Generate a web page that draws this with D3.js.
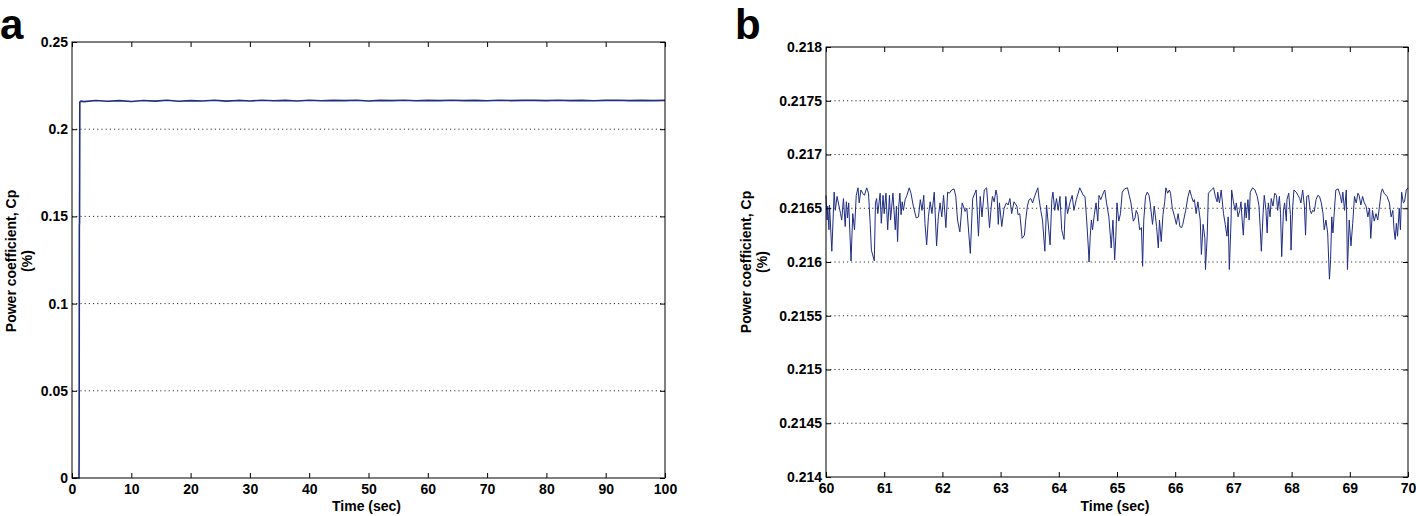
<!DOCTYPE html>
<html><head><meta charset="utf-8">
<script src="https://cdn.jsdelivr.net/npm/d3@7"></script>
<style>
body{margin:0;background:#fff;}
text{font-family:"Liberation Sans",Arial,Helvetica,sans-serif;}
</style>
</head><body>
<svg id="chart" width="1416" height="516"></svg>
<script>
// ---------- Panel a data ----------
const timeA = [0, 1.18, 1.2, 1.22, 1.24, 1.27, 1.32, 1.5,
  2, 4, 6, 8, 10, 12, 14, 16, 18, 20, 22, 24, 26, 28, 30, 32, 34, 36, 38, 40,
  42, 44, 46, 48, 50, 52, 54, 56, 58, 60, 62, 64, 66, 68, 70, 72, 74, 76, 78, 80,
  82, 84, 86, 88, 90, 92, 94, 96, 98, 100];
const cpA = [0, 0, 0.014, 0.08, 0.145, 0.146, 0.2155, 0.2161,
  0.2158, 0.2165, 0.2160, 0.2164, 0.2159, 0.2165, 0.2161, 0.2166, 0.2160, 0.2164, 0.2162, 0.2166, 0.2161, 0.2165, 0.2162, 0.2166, 0.2163, 0.2165, 0.2162, 0.2166,
  0.2163, 0.2165, 0.2164, 0.2166, 0.2162, 0.2165, 0.2164, 0.2166, 0.2163, 0.2165, 0.2164, 0.2166, 0.2164, 0.2165, 0.2163, 0.2166, 0.2164, 0.2165, 0.2165, 0.2164,
  0.2166, 0.2164, 0.2165, 0.2163, 0.2165, 0.2166, 0.2164, 0.2165, 0.2164, 0.2165];
const xTicksA = [0, 10, 20, 30, 40, 50, 60, 70, 80, 90, 100];
const yTicksA = [0, 0.05, 0.1, 0.15, 0.2, 0.25];
const yTickLabelsA = ["0", "0.05", "0.1", "0.15", "0.2", "0.25"];

// ---------- Panel b data ----------
const timeB = [60.00,60.02,60.03,60.05,60.06,60.10,60.14,60.16,60.19,60.25,60.27,60.30,60.33,60.35,60.37,60.39,60.43,60.46,60.49,60.52,
  60.55,60.57,60.60,60.63,60.66,60.70,60.73,60.76,60.78,60.83,60.85,60.87,60.89,60.93,60.95,60.98,61.00,61.03,61.06,61.09,
  61.11,61.13,61.15,61.19,61.21,61.23,61.25,61.27,61.29,61.31,61.33,61.36,61.39,61.43,61.46,61.50,61.55,61.59,61.62,61.65,
  61.68,61.70,61.73,61.76,61.79,61.82,61.86,61.90,61.93,61.96,61.99,62.02,62.06,62.09,62.12,62.16,62.20,62.23,62.26,62.30,
  62.34,62.39,62.42,62.48,62.52,62.58,62.62,62.65,62.68,62.72,62.76,62.81,62.84,62.86,62.89,62.92,62.94,62.96,62.98,63.02,
  63.06,63.10,63.13,63.16,63.19,63.23,63.28,63.30,63.33,63.37,63.41,63.43,63.46,63.49,63.52,63.55,63.59,63.64,63.66,63.69,
  63.72,63.76,63.79,63.85,63.88,63.90,63.93,63.96,63.99,64.02,64.05,64.09,64.12,64.15,64.19,64.23,64.26,64.30,64.36,64.42,
  64.45,64.48,64.51,64.52,64.54,64.56,64.58,64.61,64.64,64.67,64.69,64.72,64.75,64.77,64.79,64.82,64.86,64.89,64.90,64.93,
  64.96,64.98,65.00,65.03,65.06,65.09,65.13,65.18,65.21,65.24,65.28,65.31,65.33,65.36,65.39,65.42,65.44,65.46,65.49,65.52,
  65.55,65.57,65.61,65.64,65.68,65.71,65.73,65.76,65.79,65.82,65.84,65.87,65.90,65.92,65.95,65.99,66.02,66.05,66.08,66.11,
  66.13,66.18,66.22,66.25,66.28,66.31,66.33,66.36,66.39,66.43,66.45,66.48,66.51,66.52,66.55,66.57,66.62,66.66,66.69,66.72,
  66.73,66.76,66.79,66.83,66.86,66.89,66.91,66.93,66.96,66.97,67.00,67.03,67.05,67.08,67.11,67.13,67.15,67.17,67.20,67.22,
  67.25,67.27,67.29,67.33,67.37,67.41,67.44,67.46,67.48,67.51,67.53,67.56,67.58,67.60,67.63,67.65,67.68,67.71,67.74,67.76,
  67.79,67.81,67.83,67.86,67.88,67.91,67.92,67.95,67.98,67.99,68.02,68.04,68.08,68.11,68.14,68.16,68.19,68.22,68.24,68.26,
  68.29,68.32,68.34,68.36,68.39,68.42,68.45,68.48,68.51,68.54,68.56,68.59,68.62,68.65,68.67,68.69,68.71,68.74,68.76,68.80,
  68.84,68.86,68.88,68.91,68.94,68.96,68.99,69.02,69.05,69.08,69.11,69.14,69.16,69.19,69.22,69.25,69.28,69.31,69.34,69.36,
  69.39,69.42,69.45,69.48,69.51,69.54,69.56,69.59,69.64,69.68,69.71,69.74,69.76,69.78,69.80,69.82,69.85,69.87,69.89,69.92,
  69.94,69.97,70.00];
const cpB = [0.21662,0.21639,0.21652,0.21630,0.21653,0.21610,0.21665,0.21648,0.21661,0.21645,0.21639,0.21659,0.21633,0.21656,0.21641,0.21655,0.21601,0.21645,0.21630,0.21662,
  0.21669,0.21655,0.21667,0.21664,0.21662,0.21669,0.21664,0.21635,0.21611,0.21601,0.21655,0.21659,0.21645,0.21664,0.21636,0.21662,0.21645,0.21664,0.21630,0.21662,
  0.21639,0.21652,0.21664,0.21630,0.21652,0.21619,0.21652,0.21664,0.21644,0.21656,0.21648,0.21658,0.21662,0.21669,0.21664,0.21652,0.21641,0.21642,0.21658,0.21648,
  0.21662,0.21636,0.21616,0.21642,0.21656,0.21645,0.21665,0.21615,0.21642,0.21655,0.21642,0.21662,0.21632,0.21665,0.21664,0.21667,0.21668,0.21661,0.21639,0.21628,
  0.21655,0.21647,0.21650,0.21608,0.21659,0.21667,0.21624,0.21661,0.21642,0.21667,0.21669,0.21632,0.21652,0.21661,0.21656,0.21667,0.21662,0.21635,0.21655,0.21633,
  0.21650,0.21655,0.21653,0.21659,0.21645,0.21656,0.21652,0.21644,0.21645,0.21622,0.21625,0.21638,0.21652,0.21658,0.21659,0.21655,0.21662,0.21669,0.21659,0.21648,
  0.21639,0.21610,0.21653,0.21616,0.21658,0.21665,0.21648,0.21659,0.21648,0.21661,0.21630,0.21621,0.21661,0.21645,0.21655,0.21662,0.21648,0.21658,0.21669,0.21662,
  0.21661,0.21638,0.21611,0.21600,0.21624,0.21639,0.21630,0.21644,0.21655,0.21638,0.21662,0.21658,0.21662,0.21665,0.21667,0.21655,0.21642,0.21621,0.21613,0.21639,
  0.21602,0.21624,0.21655,0.21638,0.21645,0.21665,0.21668,0.21669,0.21662,0.21655,0.21638,0.21641,0.21648,0.21644,0.21630,0.21632,0.21596,0.21639,0.21661,0.21665,
  0.21662,0.21655,0.21635,0.21652,0.21633,0.21613,0.21639,0.21619,0.21644,0.21656,0.21669,0.21664,0.21667,0.21664,0.21650,0.21642,0.21635,0.21645,0.21633,0.21632,
  0.21635,0.21648,0.21661,0.21667,0.21661,0.21656,0.21658,0.21645,0.21656,0.21639,0.21607,0.21635,0.21622,0.21593,0.21624,0.21664,0.21667,0.21669,0.21661,0.21656,
  0.21665,0.21655,0.21667,0.21645,0.21635,0.21624,0.21642,0.21593,0.21639,0.21667,0.21656,0.21648,0.21655,0.21642,0.21648,0.21656,0.21639,0.21625,0.21655,0.21641,
  0.21658,0.21639,0.21665,0.21669,0.21667,0.21661,0.21652,0.21632,0.21610,0.21645,0.21662,0.21648,0.21627,0.21655,0.21642,0.21659,0.21652,0.21664,0.21662,0.21648,
  0.21661,0.21645,0.21605,0.21648,0.21655,0.21638,0.21658,0.21664,0.21644,0.21611,0.21652,0.21667,0.21665,0.21662,0.21659,0.21655,0.21667,0.21652,0.21625,0.21661,
  0.21662,0.21648,0.21645,0.21648,0.21647,0.21658,0.21662,0.21661,0.21655,0.21645,0.21630,0.21639,0.21627,0.21584,0.21602,0.21642,0.21627,0.21652,0.21667,0.21668,
  0.21661,0.21655,0.21665,0.21648,0.21667,0.21593,0.21639,0.21615,0.21636,0.21661,0.21655,0.21664,0.21662,0.21653,0.21661,0.21655,0.21652,0.21642,0.21650,0.21622,
  0.21648,0.21638,0.21645,0.21639,0.21652,0.21665,0.21668,0.21664,0.21661,0.21655,0.21642,0.21648,0.21630,0.21621,0.21636,0.21624,0.21650,0.21630,0.21665,0.21655,
  0.21656,0.21667,0.21669];
const xTicksB = [60, 61, 62, 63, 64, 65, 66, 67, 68, 69, 70];
const yTicksB = [0.214, 0.2145, 0.215, 0.2155, 0.216, 0.2165, 0.217, 0.2175, 0.218];
const yTickLabelsB = ["0.214", "0.2145", "0.215", "0.2155", "0.216", "0.2165", "0.217", "0.2175", "0.218"];

const LINE_COLOR = "#1f2d82";
const svg = d3.select("#chart");

function drawPanel(cfg) {
  const x = d3.scaleLinear().domain(cfg.xDomain).range([cfg.left, cfg.right]);
  const y = d3.scaleLinear().domain(cfg.yDomain).range([cfg.bottom, cfg.top]);
  const g = svg.append("g");

  // dotted grid
  g.selectAll("line.grid").data(cfg.yTicks.slice(1, -1)).enter().append("line")
    .attr("x1", cfg.left).attr("x2", cfg.right)
    .attr("y1", d => y(d)).attr("y2", d => y(d))
    .attr("stroke", "#333").attr("stroke-width", 1).attr("stroke-dasharray", "1.2,3");

  // line
  const pts = cfg.xs.map((t, i) => [t, cfg.ys[i]]);
  g.append("path").datum(pts)
    .attr("fill", "none").attr("stroke", LINE_COLOR).attr("stroke-width", cfg.lw)
    .attr("stroke-linejoin", "round")
    .attr("d", d3.line().x(d => x(d[0])).y(d => y(d[1])));

  const styleAxis = (sel) => {
    sel.select(".domain").remove();
    sel.selectAll(".tick line").attr("stroke", "#000");
    sel.selectAll(".tick text").attr("font-size", 14).attr("font-weight", "bold")
      .attr("font-family", "'Liberation Sans', Arial, sans-serif").attr("fill", "#000");
  };
  const lab = (ticks, labels) => (d) => labels[ticks.indexOf(d)];

  g.append("g").attr("transform", `translate(0,${cfg.bottom})`)
    .call(d3.axisBottom(x).tickValues(cfg.xTicks).tickSize(-5).tickPadding(6)
      .tickFormat(d => String(d))).call(styleAxis);
  g.append("g").attr("transform", `translate(0,${cfg.top})`)
    .call(d3.axisTop(x).tickValues(cfg.xTicks).tickSize(-5).tickFormat(""))
    .call(styleAxis);
  g.append("g").attr("transform", `translate(${cfg.left},0)`)
    .call(d3.axisLeft(y).tickValues(cfg.yTicks).tickSize(-5).tickPadding(4)
      .tickFormat(lab(cfg.yTicks, cfg.yLabels))).call(styleAxis);
  g.append("g").attr("transform", `translate(${cfg.right},0)`)
    .call(d3.axisRight(y).tickValues(cfg.yTicks).tickSize(-5).tickFormat(""))
    .call(styleAxis);

  // frame
  g.append("rect").attr("x", cfg.left).attr("y", cfg.top)
    .attr("width", cfg.right - cfg.left).attr("height", cfg.bottom - cfg.top)
    .attr("fill", "none").attr("stroke", "#000").attr("stroke-width", 1);

  // x title
  g.append("text").attr("x", (cfg.left + cfg.right) / 2 - 2).attr("y", cfg.xTitleY)
    .attr("text-anchor", "middle").attr("font-size", 14).attr("font-weight", "bold")
    .text("Time (sec)");
  // y title (two lines)
  g.append("text").attr("transform", `translate(${cfg.yTitleX},${cfg.yTitleCY}) rotate(-90)`)
    .attr("text-anchor", "middle").attr("font-size", 14).attr("font-weight", "bold")
    .text("Power coefficient, Cp");
  g.append("text").attr("transform", `translate(${cfg.yTitleX + 16},${cfg.yTitleCY}) rotate(-90)`)
    .attr("text-anchor", "middle").attr("font-size", 14).attr("font-weight", "bold")
    .text("(%)");
  // panel letter
  g.append("text").attr("x", cfg.letterX).attr("y", 39)
    .attr("font-size", 42).attr("font-weight", "bold").text(cfg.letter);
}

drawPanel({
  left: 72, right: 665, top: 42, bottom: 478,
  xDomain: [0, 100], yDomain: [0, 0.25],
  xs: timeA, ys: cpA, lw: 1.6,
  xTicks: xTicksA, yTicks: yTicksA, yLabels: yTickLabelsA,
  xTitleY: 511, yTitleX: 16, yTitleCY: 261, letter: "a", letterX: 0
});
drawPanel({
  left: 826, right: 1408, top: 47, bottom: 477,
  xDomain: [60, 70], yDomain: [0.214, 0.218],
  xs: timeB, ys: cpB, lw: 1,
  xTicks: xTicksB, yTicks: yTicksB, yLabels: yTickLabelsB,
  xTitleY: 511, yTitleX: 751, yTitleCY: 262, letter: "b", letterX: 735
});
</script>
</body></html>
